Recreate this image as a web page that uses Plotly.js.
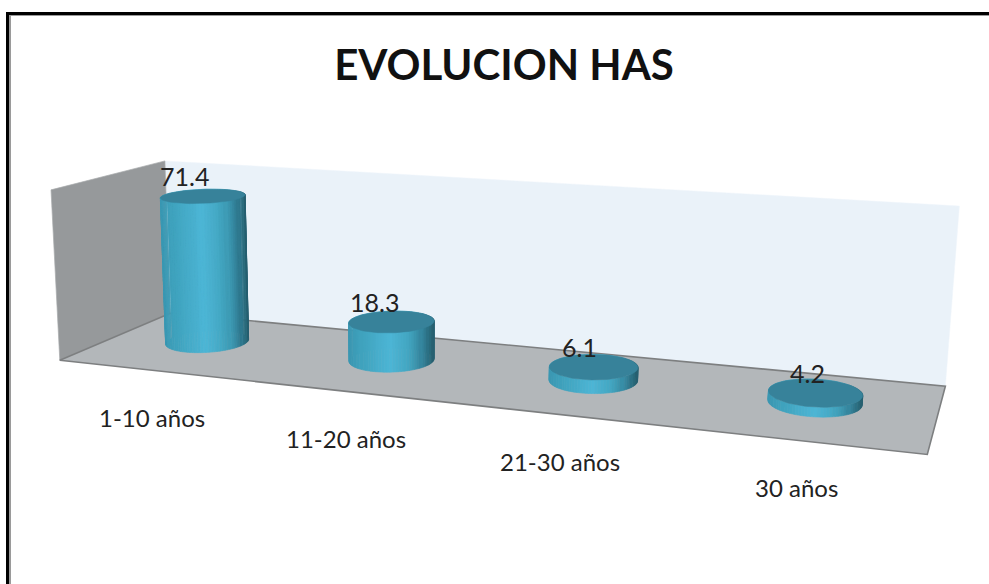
<!DOCTYPE html>
<html>
<head>
<meta charset="utf-8">
<script src="https://cdn.plot.ly/plotly-3.0.1.min.js"></script>
<style>html,body{margin:0;padding:0;background:#fff}#chart{width:989px;height:584px}</style>
</head>
<body>
<div id="chart"></div>
<script>
// Chart content
const categories = ['1-10 años', '11-20 años', '21-30 años', '30 años'];
const values = [71.4, 18.3, 6.1, 4.2];
const chartTitle = 'EVOLUCION HAS';
const axisMax = 80;

// Box corners on screen: [u, v, w] -> [px, py]; the perspective camera is fitted from them
const boxCorners = [
  [[0,0,0],[168,316]], [[1,0,0],[946,383]], [[1,1,0],[927,457]], [[0,1,0],[62,358]],
  [[0,0,1],[167,160]], [[1,0,1],[959,207]], [[0,1,1],[49,190]]
];
const radiusU = 0.05, radiusV = 0.215, depthV = 0.45, offsetU = -0.004;
const valueShiftX = [-19, -17, -14, -8];
const valueShiftY = -20;
const sideStops = [
  [0.00,[58,150,177]], [0.15,[63,162,189]], [0.50,[77,182,214]],
  [0.75,[63,160,186]], [0.90,[47,122,144]], [1.00,[36,92,108]]
];
const capColor = '#37829a';

function solve(A, b) {
  const n = b.length, M = A.map((r, i) => r.concat(b[i]));
  for (let c = 0; c < n; c++) {
    let p = c;
    for (let r = c + 1; r < n; r++) if (Math.abs(M[r][c]) > Math.abs(M[p][c])) p = r;
    [M[c], M[p]] = [M[p], M[c]];
    for (let r = 0; r < n; r++) {
      if (r === c) continue;
      const f = M[r][c] / M[c][c];
      for (let k = c; k <= n; k++) M[r][k] -= f * M[c][k];
    }
  }
  return M.map((r, i) => r[n] / r[i]);
}

function fitCamera(pairs) {
  const rows = [], rhs = [];
  pairs.forEach(([[u,v,w],[x,y]]) => {
    rows.push([u,v,w,1,0,0,0,0,-x*u,-x*v,-x*w]); rhs.push(x);
    rows.push([0,0,0,0,u,v,w,1,-y*u,-y*v,-y*w]); rhs.push(y);
  });
  const n = 11;
  const A = Array.from({length:n}, (_, i) => Array.from({length:n}, (_, j) =>
    rows.reduce((s, r) => s + r[i]*r[j], 0)));
  const b = Array.from({length:n}, (_, i) => rows.reduce((s, r, k) => s + r[i]*rhs[k], 0));
  return solve(A, b);
}

const cam = fitCamera(boxCorners);
function project(u, v, w) {
  const d = cam[8]*u + cam[9]*v + cam[10]*w + 1;
  return [(cam[0]*u + cam[1]*v + cam[2]*w + cam[3]) / d,
          (cam[4]*u + cam[5]*v + cam[6]*w + cam[7]) / d];
}

function polygon(points, color, line, width) {
  const p = points.map(q => project(q[0], q[1], q[2]));
  p.push(p[0]);
  return {
    type: 'scatter', mode: 'lines', x: p.map(q => q[0]), y: p.map(q => q[1]),
    fill: 'toself', fillcolor: color, hoverinfo: 'skip', showlegend: false,
    line: {color: line || color, width: width === undefined ? 1 : width}
  };
}

function sideColor(t) {
  let i = 0;
  while (i < sideStops.length - 2 && t > sideStops[i+1][0]) i++;
  const [a, ca] = sideStops[i], [b, cb] = sideStops[i+1];
  const f = Math.min(1, Math.max(0, (t - a) / (b - a)));
  return 'rgb(' + ca.map((c, k) => Math.round(c + (cb[k]-c)*f)).join(',') + ')';
}

const traces = [];
// Walls and floor of the plot box
traces.push(polygon([[0,0,0],[1,0,0],[1,0,1],[0,0,1]], '#eaf2f9', '#eef4fa', 0.5));
traces.push(polygon([[0,0,0],[0,1,0],[0,1,1],[0,0,1]], '#96999b', '#a9acae', 0.7));
traces.push(polygon([[0,0,0],[1,0,0],[1,1,0],[0,1,0]], '#b3b7ba', '#7d7f80', 1.6));

// Cylinder sides, grouped into colour bands across each silhouette.
// Rear and front facets go in separate traces so opposite windings do not cancel.
const nBands = 36, nAngles = 96;
const newBands = () => Array.from({length:nBands}, () => ({x:[], y:[]}));
const rearBands = newBands(), frontBands = newBands();
const caps = {x:[], y:[]};
const centre = i => (i + 0.5) / categories.length + offsetU;

values.forEach((val, i) => {
  const w = val / axisMax, cu = centre(i);
  const ring = (h, a) => project(cu + radiusU*Math.cos(a), depthV + radiusV*Math.sin(a), h);
  let xmin = Infinity, xmax = -Infinity;
  for (let k = 0; k < nAngles; k++) {
    const a = 2*Math.PI*k/nAngles;
    [0, w].forEach(h => { const p = ring(h, a); xmin = Math.min(xmin, p[0]); xmax = Math.max(xmax, p[0]); });
  }
  for (let k = 0; k < nAngles; k++) {
    const a0 = 2*Math.PI*k/nAngles, a1 = 2*Math.PI*(k+1)/nAngles;
    const quad = [ring(0,a0), ring(0,a1), ring(w,a1), ring(w,a0)];
    const mx = quad.reduce((s, q) => s + q[0], 0) / 4;
    const band = Math.min(nBands-1, Math.floor((mx - xmin)/(xmax - xmin)*nBands));
    const set = Math.sin((a0 + a1)/2) > 0 ? frontBands : rearBands;
    quad.concat([quad[0]]).forEach(q => { set[band].x.push(q[0]); set[band].y.push(q[1]); });
    set[band].x.push(null); set[band].y.push(null);
  }
  for (let k = 0; k <= nAngles; k++) {
    const p = ring(w, 2*Math.PI*k/nAngles);
    caps.x.push(p[0]); caps.y.push(p[1]);
  }
  caps.x.push(null); caps.y.push(null);
});

[rearBands, frontBands].forEach(set => set.forEach((b, k) => {
  if (!b.x.length) return;
  const c = sideColor((k + 0.5)/nBands);
  traces.push({type:'scatter', mode:'lines', x:b.x, y:b.y, fill:'toself', fillcolor:c,
    line:{color:c, width:0.6}, hoverinfo:'skip', showlegend:false});
}));
traces.push({type:'scatter', mode:'lines', x:caps.x, y:caps.y, fill:'toself', fillcolor:capColor,
  line:{color:capColor, width:0.5}, hoverinfo:'skip', showlegend:false});

const font = 'Lato, "Open Sans", sans-serif';
const annotations = [];
values.forEach((val, i) => {
  const top = project(centre(i), depthV, val/axisMax);
  annotations.push({x:top[0], y:top[1], xref:'x', yref:'y', text:val.toFixed(1), showarrow:false,
    xshift:valueShiftX[i], yshift:-valueShiftY, font:{family:font, size:25, color:'#222'}});
});
categories.forEach((cat, i) => {
  const edge = project(centre(i), 0.96, 0);
  annotations.push({x:edge[0], y:edge[1], xref:'x', yref:'y', text:cat, showarrow:false,
    xshift:0, yshift:-50, font:{family:font, size:24, color:'#222'}});
});

const frame = [
  {x0:6, x1:989, y0:12, y1:15, color:'#000'},
  {x0:6, x1:9, y0:12, y1:584, color:'#000'},
  {x0:9, x1:11, y0:15, y1:584, color:'#9a9a9a'},
  {x0:9, x1:989, y0:15, y1:16, color:'#9a9a9a'}
].map(f => ({type:'rect', xref:'x', yref:'y', x0:f.x0, x1:f.x1, y0:f.y0, y1:f.y1,
  fillcolor:f.color, line:{width:0}, layer:'below'}));

const layout = {
  width: 989, height: 584,
  margin: {l:0, r:0, t:0, b:0},
  paper_bgcolor: '#fff', plot_bgcolor: '#fff',
  showlegend: false,
  title: {text: chartTitle, x: 504/989, xanchor:'center', y: 1 - 65/584, yanchor:'middle',
    font: {family: font, size: 42, color: '#111', weight: 700}},
  xaxis: {range:[0,989], visible:false, fixedrange:true},
  yaxis: {range:[584,0], visible:false, fixedrange:true},
  shapes: frame,
  annotations: annotations
};
Plotly.newPlot('chart', traces, layout, {displayModeBar:false, staticPlot:true});
</script>
</body>
</html>
